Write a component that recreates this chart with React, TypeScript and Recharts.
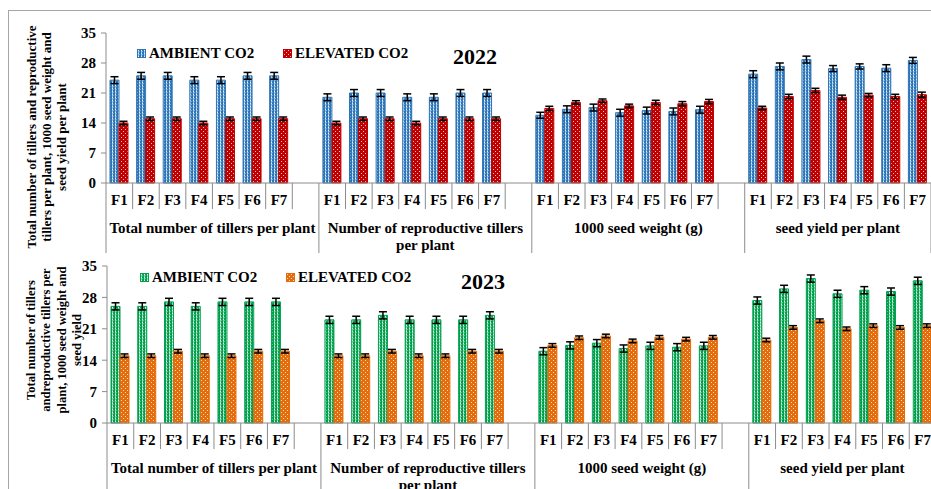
import React from 'react';
import { BarChart, Bar, XAxis, YAxis, ErrorBar, Legend } from 'recharts';

const FONT = '"Liberation Serif", "Times New Roman", serif';
const AXIS = '#8c8c8c';

const groupLabels = [
  ['Total number of tillers per plant'],
  ['Number of reproductive tillers', 'per plant'],
  ['1000 seed weight (g)'],
  ['seed yield per plant'],
];
const factors = ['F1', 'F2', 'F3', 'F4', 'F5', 'F6', 'F7'];
const yTicks = [0, 7, 14, 21, 28, 35];

// 2022 (blue / red)
const ambient2022 = [24, 25, 25, 24, 24, 25, 25, 20, 21, 21, 20, 20, 21, 21, 15.8, 17.2, 17.6, 16.4, 16.9, 16.7, 17.1, 25.4, 27.2, 28.8, 26.7, 27.2, 26.8, 28.6];
const elevated2022 = [14, 15, 15, 14, 15, 15, 15, 14, 15, 15, 14, 15, 15, 15, 17.4, 18.8, 19.2, 18.0, 18.8, 18.5, 19.0, 17.5, 20.2, 21.6, 20.0, 20.5, 20.2, 20.6];
const ambientErr2022 = [0.8, 0.8, 0.8, 0.8, 0.8, 0.8, 0.8, 0.8, 0.8, 0.8, 0.8, 0.8, 0.8, 0.8, 0.7, 0.8, 0.8, 0.8, 0.8, 0.8, 0.8, 0.8, 0.8, 0.8, 0.7, 0.6, 0.8, 0.7];
const elevatedErr2022 = [0.4, 0.4, 0.4, 0.4, 0.4, 0.4, 0.4, 0.4, 0.4, 0.4, 0.4, 0.4, 0.4, 0.4, 0.5, 0.4, 0.4, 0.4, 0.5, 0.5, 0.5, 0.4, 0.5, 0.5, 0.5, 0.4, 0.5, 0.6];

// 2023 (green / orange)
const ambient2023 = [26, 26, 27, 26, 27, 27, 27, 23, 23, 24, 23, 23, 23, 24, 16.0, 17.3, 17.8, 16.6, 17.2, 16.9, 17.2, 27.3, 29.9, 32.2, 28.8, 29.6, 29.3, 31.7];
const elevated2023 = [15, 15, 16, 15, 15, 16, 16, 15, 15, 16, 15, 15, 16, 16, 17.3, 19.0, 19.4, 18.3, 19.1, 18.7, 19.1, 18.5, 21.3, 22.8, 21.0, 21.7, 21.3, 21.7];
const ambientErr2023 = [0.8, 0.8, 0.8, 0.8, 0.8, 0.8, 0.8, 0.8, 0.8, 0.8, 0.8, 0.8, 0.8, 0.8, 0.8, 0.8, 0.8, 0.8, 0.8, 0.8, 0.8, 0.8, 0.8, 0.8, 0.8, 0.8, 0.8, 0.8];
const elevatedErr2023 = [0.4, 0.4, 0.4, 0.4, 0.4, 0.4, 0.4, 0.4, 0.4, 0.4, 0.4, 0.4, 0.4, 0.4, 0.4, 0.4, 0.4, 0.4, 0.4, 0.4, 0.4, 0.4, 0.4, 0.4, 0.4, 0.4, 0.4, 0.4];

type Row = {
  id: string;
  label: string;
  group: number;
  first: boolean;
  amb?: number;
  ele?: number;
  ambErr?: number;
  eleErr?: number;
};

function buildRows(amb: number[], ele: number[], ambErr: number[], eleErr: number[]): Row[] {
  const rows: Row[] = [];
  groupLabels.forEach((_, g) => {
    factors.forEach((f, k) => {
      const i = g * factors.length + k;
      rows.push({ id: String(rows.length), label: f, group: g, first: k === 0, amb: amb[i], ele: ele[i], ambErr: ambErr[i], eleErr: eleErr[i] });
    });
    // empty slot between groups
    if (g < groupLabels.length - 1) rows.push({ id: String(rows.length), label: '', group: g, first: false });
  });
  return rows;
}

const rows2022 = buildRows(ambient2022, elevated2022, ambientErr2022, elevatedErr2022);
const rows2023 = buildRows(ambient2023, elevated2023, ambientErr2023, elevatedErr2023);

function CategoryTick(props: any) {
  const { x, y, payload, rows, slot, longLen } = props;
  const i = Number(payload.value);
  const row: Row = rows[i];
  if (!row) return null;
  const left = x - slot / 2;
  const size = rows.filter((r: Row) => r.group === row.group).length;
  const isLast = i === rows.length - 1;
  return (
    <g>
      <line x1={left} x2={left} y1={y} y2={y + (row.first ? longLen : 26)} stroke={AXIS} />
      {isLast && <line x1={x + slot / 2} x2={x + slot / 2} y1={y} y2={y + longLen} stroke={AXIS} />}
      <text x={x} y={y + 22} textAnchor="middle" fontFamily={FONT} fontWeight="bold" fontSize={15} fill="#000">
        {row.label}
      </text>
      {row.first &&
        groupLabels[row.group].map((line, k) => (
          <text key={k} x={left + (size * slot) / 2} y={y + 50 + k * 17} textAnchor="middle" fontFamily={FONT} fontWeight="bold" fontSize={15} fill="#000">
            {line}
          </text>
        ))}
    </g>
  );
}

function Patterns({ prefix, amb, ambLight, ele }: { prefix: string; amb: string; ambLight: string; ele: string }) {
  return (
    <defs>
      <pattern id={`${prefix}-amb`} patternUnits="userSpaceOnUse" width={3} height={3}>
        <rect width={3} height={3} fill={amb} />
        <rect x={1} width={1} height={3} fill={ambLight} />
        <rect x={1} y={1} width={1} height={1} fill="#ffffff" opacity={0.8} />
        <rect x={2} y={2} width={1} height={1} fill={ambLight} opacity={0.6} />
      </pattern>
      <pattern id={`${prefix}-ele`} patternUnits="userSpaceOnUse" width={4} height={4}>
        <rect width={4} height={4} fill={ele} />
        <rect x={1} y={1} width={1} height={1} fill="#ffffff" opacity={0.75} />
        <rect x={3} y={3} width={1} height={1} fill="#ffffff" opacity={0.75} />
      </pattern>
    </defs>
  );
}

function LegendContent({ items }: { items: { name: string; fill: string; stroke: string }[] }) {
  return (
    <div style={{ display: 'flex', fontFamily: FONT, fontWeight: 'bold', fontSize: 15, color: '#000', lineHeight: '16px' }}>
      {items.map((it, k) => (
        <div key={k} style={{ display: 'flex', alignItems: 'center', width: k === 0 ? 146 : 'auto', whiteSpace: 'nowrap' }}>
          <svg width={9} height={9} style={{ marginRight: 3 }}>
            <rect x={0.5} y={0.5} width={8} height={8} fill={it.fill} stroke={it.stroke} />
          </svg>
          <span>{it.name}</span>
        </div>
      ))}
    </div>
  );
}

function Panel(props: {
  rows: Row[];
  prefix: string;
  width: number;
  height: number;
  marginTop: number;
  axisWidth: number;
  axisHeight: number;
  longLen: number;
  colors: { amb: string; ambLight: string; ambStroke: string; ele: string; eleStroke: string };
  legendPos: { left: number; top: number };
}) {
  const { rows, prefix, width, height, marginTop, axisWidth, axisHeight, longLen, colors, legendPos } = props;
  const slot = (width - axisWidth) / rows.length;
  return (
    <BarChart
      width={width}
      height={height}
      data={rows}
      margin={{ top: marginTop, right: 0, bottom: 0, left: 0 }}
      barCategoryGap="15%"
      barGap={0}
    >
      <Patterns prefix={prefix} amb={colors.amb} ambLight={colors.ambLight} ele={colors.ele} />
      <XAxis
        dataKey="id"
        interval={0}
        height={axisHeight}
        tickLine={false}
        tickSize={0}
        tickMargin={0}
        axisLine={{ stroke: AXIS }}
        tick={(p: any) => <CategoryTick {...p} rows={rows} slot={slot} longLen={longLen} />}
      />
      <YAxis
        width={axisWidth}
        domain={[0, 35]}
        ticks={yTicks}
        interval={0}
        tickSize={5}
        tickMargin={5}
        axisLine={{ stroke: AXIS }}
        tickLine={{ stroke: AXIS }}
        tick={{ fontFamily: FONT, fontWeight: 'bold', fontSize: 15, fill: '#000' }}
      />
      <Legend
        layout="horizontal"
        verticalAlign="middle"
        align="center"
        wrapperStyle={{ left: legendPos.left, top: legendPos.top, width: 'auto' }}
        content={() => (
          <LegendContent
            items={[
              { name: 'AMBIENT CO2', fill: `url(#${prefix}-amb)`, stroke: colors.ambStroke },
              { name: 'ELEVATED CO2', fill: `url(#${prefix}-ele)`, stroke: colors.eleStroke },
            ]}
          />
        )}
      />
      <Bar dataKey="amb" fill={`url(#${prefix}-amb)`} stroke={colors.ambStroke} strokeWidth={1} isAnimationActive={false}>
        <ErrorBar dataKey="ambErr" width={4} stroke="#000" strokeWidth={1.5} />
      </Bar>
      <Bar dataKey="ele" fill={`url(#${prefix}-ele)`} stroke={colors.eleStroke} strokeWidth={1} isAnimationActive={false}>
        <ErrorBar dataKey="eleErr" width={4} stroke="#000" strokeWidth={1.5} />
      </Bar>
    </BarChart>
  );
}

function AxisTitle({ lines, xs, cy, fontSize }: { lines: string[]; xs: number[]; cy: number; fontSize: number }) {
  return (
    <>
      {lines.map((l, k) => (
        <text
          key={k}
          x={xs[k]}
          y={cy}
          transform={`rotate(-90 ${xs[k]} ${cy})`}
          textAnchor="middle"
          dominantBaseline="central"
          fontFamily={FONT}
          fontWeight="bold"
          fontSize={fontSize}
          fill="#000"
        >
          {l}
        </text>
      ))}
    </>
  );
}

const titleStyle: React.CSSProperties = {
  position: 'absolute',
  fontFamily: FONT,
  fontWeight: 'bold',
  fontSize: 22,
  color: '#000',
  transform: 'translate(-50%, -50%)',
  lineHeight: 1,
};

export default function App() {
  return (
    <div style={{ position: 'absolute', left: 0, top: 0, width: 931, height: 489, overflow: 'hidden', background: '#fff' }}>
      <div style={{ position: 'absolute', left: 8, top: 10, width: 940, height: 500, borderLeft: '1px solid #a6a6a6', borderTop: '1px solid #a6a6a6' }} />
      <div style={{ position: 'absolute', left: 0, top: 0 }}>
        <Panel
          rows={rows2022}
          prefix="y22"
          width={931}
          height={255}
          marginTop={33}
          axisWidth={106}
          axisHeight={72}
          longLen={70}
          colors={{ amb: '#2E75B6', ambLight: '#9DC3E6', ambStroke: '#2E75B6', ele: '#C00000', eleStroke: '#C00000' }}
          legendPos={{ left: 137, top: 45 }}
        />
      </div>
      <div style={{ position: 'absolute', left: 0, top: 255 }}>
        <Panel
          rows={rows2023}
          prefix="y23"
          width={936}
          height={234}
          marginTop={11}
          axisWidth={107}
          axisHeight={66}
          longLen={70}
          colors={{ amb: '#00A050', ambLight: '#8FD9A8', ambStroke: '#00A050', ele: '#E46C0A', eleStroke: '#E46C0A' }}
          legendPos={{ left: 140, top: 14 }}
        />
      </div>
      <div style={{ ...titleStyle, left: 475, top: 57 }}>2022</div>
      <div style={{ ...titleStyle, left: 483, top: 282 }}>2023</div>
      <svg width={100} height={489} style={{ position: 'absolute', left: 0, top: 0 }}>
        <AxisTitle
          lines={['Total number of tillers and reproductive', 'tillers per plant, 1000 seed weight and', 'seed yield per plant']}
          xs={[31, 46, 61]}
          cy={137}
          fontSize={13}
        />
        <AxisTitle
          lines={['Total number of tillers', 'andreproductive tillers per', 'plant, 1000 seed weight and', 'seed yield']}
          xs={[31, 46, 62, 77]}
          cy={340}
          fontSize={12.5}
        />
      </svg>
    </div>
  );
}
